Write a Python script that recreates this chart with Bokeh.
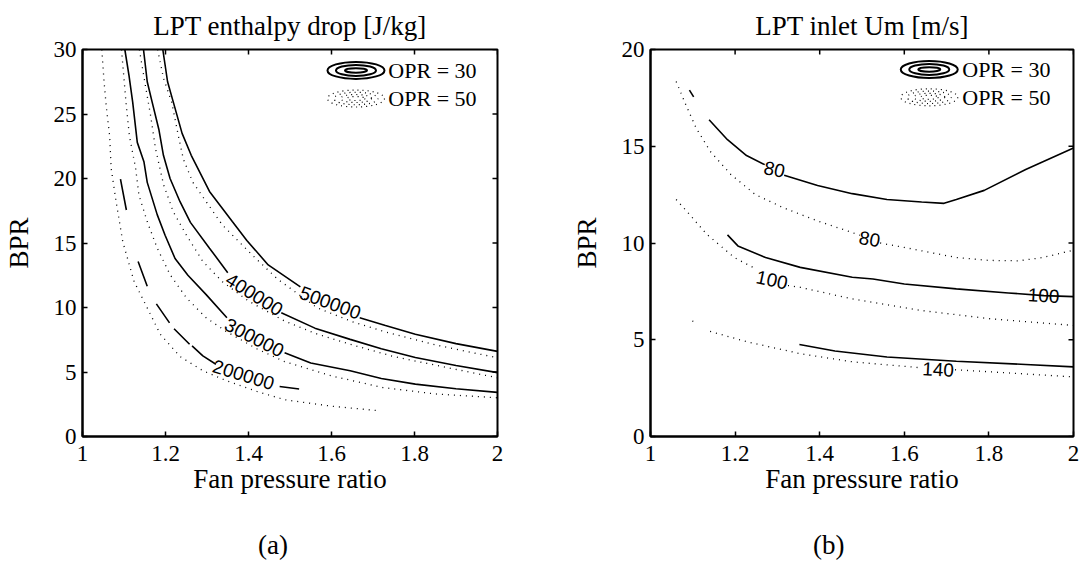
import math
from bokeh.plotting import figure
from bokeh.layouts import row, column
from bokeh.models import FixedTicker, Label, Range1d, Div
from bokeh.embed import file_html
from bokeh.resources import INLINE
from bokeh.core.properties import value

nan = float("nan")
SERIF = "Liberation Serif"
SANS = "Liberation Sans"

# ---------------- shared ticks ----------------
x_ticks = [1, 1.2, 1.4, 1.6, 1.8, 2]
x_tick_labels = ["1", "1.2", "1.4", "1.6", "1.8", "2"]
a_y_ticks = [0, 5, 10, 15, 20, 25, 30]
b_y_ticks = [0, 5, 10, 15, 20]

# ---------------- (a) LPT enthalpy drop ----------------
# OPR = 30 (solid / dashed), gaps where inline labels sit
a30_500_x = [1.1935, 1.205, 1.219, 1.24, 1.262, 1.306, 1.361, 1.396, 1.4475, 1.525, nan, 1.668, 1.73, 1.802, 1.90, 2.0]
a30_500_y = [30, 27.5, 25.9, 23.5, 21.8, 19.0, 16.66, 15.2, 13.3, 11.6, nan, 9.2, 8.6, 7.92, 7.2, 6.6]
a30_400_x = [1.147, 1.156, 1.168, 1.184, 1.195, 1.211, 1.235, 1.26, 1.306, 1.35, nan, 1.479, 1.56, 1.645, 1.72, 1.802, 1.90, 2.0]
a30_400_y = [30, 27.5, 25.9, 23.8, 21.8, 20.0, 18.2, 16.6, 14.6, 12.7, nan, 9.59, 8.4, 7.53, 6.8, 6.12, 5.5, 4.95]
a30_300_x = [1.102, 1.112, 1.121, 1.132, 1.148, 1.156, 1.180, 1.199, 1.223, 1.254, 1.298, 1.348, nan, 1.487, 1.55, 1.645, 1.72, 1.802, 1.90, 2.0]
a30_300_y = [30, 28, 25.9, 22.8, 21.3, 19.7, 17.2, 15.6, 13.8, 12.5, 11.0, 9.2, nan, 6.5, 5.7, 5.09, 4.5, 4.06, 3.7, 3.42]
a30_200_x = [1.0915, 1.1057, nan, 1.134, 1.156, nan, 1.178, 1.2097, nan, 1.2206, 1.258, nan, 1.264, 1.29, 1.3215, nan, 1.475, 1.522]
a30_200_y = [19.95, 17.56, nan, 13.57, 11.65, nan, 10.28, 8.81, nan, 8.35, 7.15, nan, 7.02, 6.25, 5.6, nan, 3.88, 3.68]

# OPR = 50 (dotted)
a50_500_x = [1.181, 1.195, 1.215, 1.231, 1.243, 1.266, 1.298, 1.337, 1.377, 1.408, 1.47, 1.566, 1.65, 1.723, 1.85, 2.0]
a50_500_y = [30, 27.8, 25.9, 23.3, 21.5, 19.7, 18.2, 16.4, 15.1, 14.1, 12.2, 9.97, 8.9, 8.17, 7.1, 6.1]
a50_400_x = [1.137, 1.15, 1.164, 1.176, 1.1955, 1.219, 1.2506, 1.29, 1.337, 1.40, 1.487, 1.56, 1.645, 1.75, 1.87, 2.0]
a50_400_y = [30, 27.5, 24.9, 22.3, 19.5, 17.4, 15.6, 13.57, 12.0, 10.5, 8.95, 8.0, 7.15, 6.2, 5.4, 4.55]
a50_300_x = [1.094, 1.1048, 1.113, 1.128, 1.136, 1.156, 1.18, 1.211, 1.2506, 1.298, 1.345, 1.42, 1.487, 1.60, 1.723, 1.85, 2.0]
a50_300_y = [30, 25.9, 23.3, 20.8, 18.7, 16.66, 14.6, 12.55, 10.74, 9.2, 8.17, 6.8, 5.8, 4.7, 3.8, 3.3, 3.0]
a50_200_x = [1.0465, 1.052, 1.0575, 1.0654, 1.069, 1.081, 1.097, 1.1245, 1.156, 1.1875, 1.235, 1.29, 1.345, 1.42, 1.487, 1.60, 1.714]
a50_200_y = [30, 27.5, 25.5, 23.3, 20.8, 18.2, 15.1, 12.0, 9.97, 7.92, 6.2, 5.1, 4.35, 3.5, 2.85, 2.35, 2.0]

a_lbl_text = ["500000", "400000", "300000", "200000"]
a_lbl_x = [1.597, 1.414, 1.414, 1.388]
a_lbl_y = [10.36, 11.0, 7.66, 4.78]
a_lbl_angle = [-20, -32, -27, -17]

# ---------------- (b) LPT inlet Um ----------------
b30_80_x = [1.1385, 1.182, 1.227, 1.27, nan, 1.316, 1.395, 1.477, 1.559, 1.641, 1.694, 1.723, 1.789, 1.887, 2.0]
b30_80_y = [16.37, 15.34, 14.52, 14.05, nan, 13.5, 12.97, 12.55, 12.25, 12.12, 12.05, 12.25, 12.72, 13.8, 14.91]
b30_80b_x = [1.092, 1.102]
b30_80b_y = [17.9, 17.55]
b30_100_x = [1.182, 1.2066, 1.272, 1.354, 1.477, 1.526, 1.6, 1.723, 1.846, 1.93, 2.0]
b30_100_y = [10.42, 9.85, 9.25, 8.74, 8.23, 8.14, 7.88, 7.63, 7.42, 7.28, 7.23]
b30_140_x = [1.352, 1.436, 1.559, 1.723, 1.887, 2.0]
b30_140_y = [4.75, 4.42, 4.11, 3.89, 3.72, 3.6]

b50_80_x = [1.0607, 1.0836, 1.108, 1.141, 1.19, 1.2475, 1.313, 1.395, 1.477, 1.495, nan, 1.543, 1.6, 1.723, 1.80, 1.87, 1.928, 2.0]
b50_80_y = [18.34, 17.14, 15.94, 14.74, 13.54, 12.51, 11.83, 11.14, 10.54, 10.4, nan, 10.0, 9.77, 9.25, 9.1, 9.08, 9.25, 9.63]
b50_100_x = [1.0607, 1.092, 1.133, 1.198, 1.25, nan, 1.325, 1.354, 1.477, 1.641, 1.805, 2.0]
b50_100_y = [12.25, 11.48, 10.45, 9.25, 8.65, nan, 7.8, 7.71, 7.11, 6.51, 6.08, 5.74]
b50_140_x = [1.099, 1.102, nan, 1.141, 1.231, 1.354, 1.477, 1.64, nan, 1.72, 1.805, 2.0]
b50_140_y = [5.97, 5.94, nan, 5.43, 4.88, 4.28, 3.86, 3.55, nan, 3.45, 3.34, 3.08]

b_lbl_text = ["80", "80", "100", "100", "140"]
b_lbl_x = [1.293, 1.518, 1.287, 1.9295, 1.680]
b_lbl_y = [13.8, 10.2, 8.09, 7.28, 3.46]
b_lbl_angle = [-12, -10, -12, -3, -3]

captions = ["(a)", "(b)"]


def style_axis(ax, ticks, labels, standoff):
    ax.ticker = FixedTicker(ticks=ticks)
    ax.major_label_overrides = {t: l for t, l in zip(ticks, labels)}
    ax.axis_line_color = "black"
    ax.axis_line_width = 2
    ax.major_tick_in = 5
    ax.major_tick_out = 0
    ax.major_tick_line_width = 1.5
    ax.minor_tick_in = 0
    ax.minor_tick_out = 0
    ax.major_label_text_font = SERIF
    ax.major_label_text_color = "black"
    ax.major_label_text_font_size = "23px"
    ax.major_label_standoff = standoff
    ax.axis_label_text_font = SERIF
    ax.axis_label_text_font_size = "27px"
    ax.axis_label_text_font_style = "normal"
    ax.axis_label_text_color = "black"


def make_fig(title, ymax, yticks, left_border, right_border):
    p = figure(width=540, height=510, x_range=Range1d(1, 2), y_range=Range1d(0, ymax),
               output_backend="svg", toolbar_location=None,
               min_border_left=left_border, min_border_right=right_border,
               min_border_top=47, min_border_bottom=74, title=title)
    p.title.text_font = SERIF
    p.title.text_font_size = "27px"
    p.title.text_font_style = "normal"
    p.title.text_color = "black"
    p.title.text_line_height = 0.9
    p.title.align = "center"
    p.title.standoff = 17
    p.grid.visible = False
    p.outline_line_color = "black"
    p.outline_line_width = 2
    p.background_fill_color = "white"
    p.border_fill_color = "white"
    style_axis(p.xaxis[0], x_ticks, x_tick_labels, 9)
    style_axis(p.yaxis[0], yticks, [str(t) for t in yticks], 6)
    p.xaxis.axis_label = "Fan pressure ratio"
    p.yaxis.axis_label = "BPR"
    p.xaxis.axis_label_standoff = 0
    p.yaxis.axis_label_standoff = 17
    # inward ticks on the top and right spines (outer half is clipped by the frame)
    p.scatter(x=x_ticks, y=[ymax] * len(x_ticks), marker="dash", size=10, angle=90,
              angle_units="deg", line_color="black", line_width=1.5)
    p.scatter(x=[2] * len(yticks), y=yticks, marker="dash", size=10,
              line_color="black", line_width=1.5)
    return p


def caption_div(text, left):
    return Div(text=text, width=540 - left, height=55 - 19, margin=(19, 0, 0, left),
               styles={"font-family": SERIF, "font-size": "27px", "line-height": "32px",
                       "color": "black"})


def solid(p, xs, ys, dash="solid"):
    p.line(xs, ys, line_color="black", line_width=1.6, line_dash=dash)


def dotted(p, xs, ys):
    p.line(xs, ys, line_color="black", line_width=1.3, line_dash="1 5")


def legend(p, xc, y30, y50, xt):
    p.ellipse(x=[xc] * 3, y=[y30] * 3, width=[57, 40, 22], height=[17, 11, 4.5],
              width_units="screen", height_units="screen",
              fill_color=None, line_color="black", line_width=2)
    p.ellipse(x=[xc] * 4, y=[y50] * 4, width=[57, 44, 31, 18], height=[17, 12.5, 8, 4],
              width_units="screen", height_units="screen",
              fill_color=None, line_color="black", line_width=1.2, line_dash="1 4")
    for yy, txt in ((y30, "OPR = 30"), (y50, "OPR = 50")):
        p.add_layout(Label(x=xt, y=yy, text=txt, text_font=SERIF, text_font_size="22px",
                           text_baseline="middle", text_align="left", text_color="black"))


def clabels(p, xs, ys, texts, angles):
    p.text(x=xs, y=ys, text=texts, angle=angles, angle_units="deg",
           text_font=value(SANS), text_font_size="19px", text_align="center",
           text_baseline="middle", text_color="black")


# ---- figure (a)
pa = make_fig("LPT enthalpy drop [J/kg]", 30, a_y_ticks, 74, 43)
for xs, ys in ((a50_500_x, a50_500_y), (a50_400_x, a50_400_y), (a50_300_x, a50_300_y), (a50_200_x, a50_200_y)):
    dotted(pa, xs, ys)
for xs, ys in ((a30_500_x, a30_500_y), (a30_400_x, a30_400_y), (a30_300_x, a30_300_y), (a30_200_x, a30_200_y)):
    solid(pa, xs, ys)
clabels(pa, a_lbl_x, a_lbl_y, a_lbl_text, a_lbl_angle)
legend(pa, 1.659, 28.38, 26.2, 1.737)

# ---- figure (b)
pb = make_fig("LPT inlet Um [m/s]", 20, b_y_ticks, 110, 7)
for xs, ys in ((b50_80_x, b50_80_y), (b50_100_x, b50_100_y), (b50_140_x, b50_140_y)):
    dotted(pb, xs, ys)
for xs, ys in ((b30_80_x, b30_80_y), (b30_80b_x, b30_80b_y), (b30_100_x, b30_100_y), (b30_140_x, b30_140_y)):
    solid(pb, xs, ys)
clabels(pb, b_lbl_x, b_lbl_y, b_lbl_text, b_lbl_angle)
legend(pb, 1.659, 18.97, 17.53, 1.737)

layout = column(row(pa, pb),
                row(caption_div(captions[0], 258), caption_div(captions[1], 273)))
open("out.html", "w").write(file_html(layout, INLINE))
